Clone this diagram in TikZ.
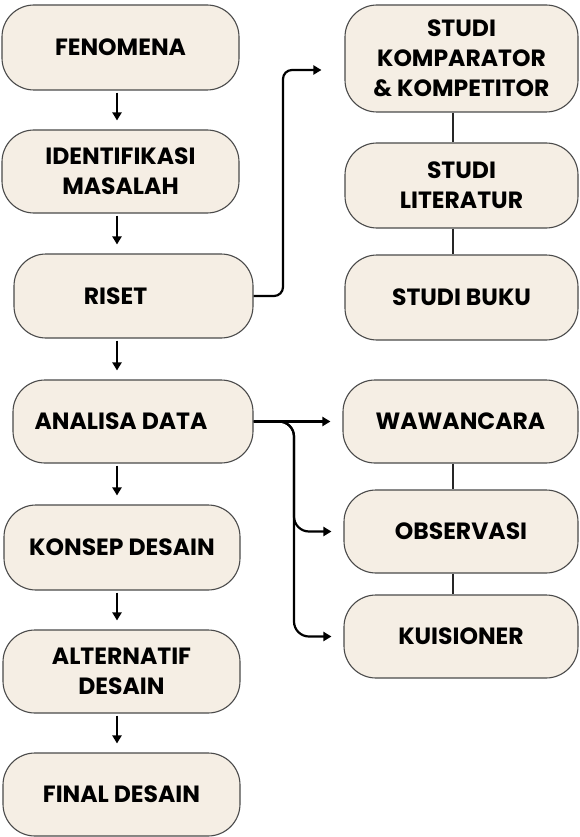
\documentclass[tikz,border=0pt]{standalone}
\usepackage{fontspec}
\setmainfont{Poppins}
\usetikzlibrary{positioning,arrows.meta}
\definecolor{boxfill}{HTML}{F5EEE4}
\definecolor{boxline}{HTML}{4A4A4A}

\begin{document}
\begin{tikzpicture}[x=1pt, y=-1pt,
    proc/.style={rectangle, draw=boxline, line width=1.1pt, rounded corners=32pt, fill=boxfill,
        minimum width=237pt, minimum height=84pt, align=center, text=black,
        font=\fontsize{23.5}{30}\selectfont\bfseries},
    flow/.style={-{Triangle[length=8pt,width=9pt]}, line width=2.2pt, black},
    link/.style={line width=2pt, black!85}
]
\useasboundingbox (0,0) rectangle (580,837);
\fill[white] (0,0) rectangle (580,837);

% left column
\node (L1) [proc, minimum height=85pt] at (120.5,47.5) {FENOMENA};
\node (L2) [proc, minimum height=83pt] at (120.5,171.5) {IDENTIFIKASI\\MASALAH};
\node (L3) [proc, minimum width=239pt] at (133.5,296) {\hspace*{-36pt}RISET};
\node (L4) [proc, minimum width=240pt, minimum height=83pt] at (133,421.5) {\hspace*{-24pt}ANALISA DATA};
\node (L5) [proc, minimum width=236pt, minimum height=85pt] at (122,547.5) {KONSEP DESAIN};
\node (L6) [proc, minimum height=83pt] at (121.5,671.5) {ALTERNATIF\\DESAIN};
\node (L7) [proc, minimum height=83pt] at (121.5,794.5) {FINAL DESAIN};

% right column
\node (R1) [proc, minimum width=233pt, minimum height=107pt] at (461.5,58.5) {STUDI\\KOMPARATOR\\\& KOMPETITOR};
\node (R2) [proc, minimum width=233pt, minimum height=85pt] at (461.5,185.5) {STUDI\\LITERATUR};
\node (R3) [proc, minimum width=233pt, minimum height=85pt] at (461.5,297.5) {STUDI BUKU};
\node (R4) [proc, minimum width=235pt, minimum height=83pt] at (460.5,421.5) {WAWANCARA};
\node (R5) [proc, minimum width=234pt, minimum height=83pt] at (461,531.5) {OBSERVASI};
\node (R6) [proc, minimum width=234pt, minimum height=83pt] at (461,636.5) {KUISIONER};

\coordinate (lspine) at (117,0);
\coordinate (rspine) at (452.5,0);
\coordinate (rbend) at (283,70);
\coordinate (abend) at (294,0);

% main flow
\foreach \a/\b in {L1/L2, L2/L3, L3/L4, L4/L5, L5/L6, L6/L7}
    \draw[flow, shorten <=2pt, shorten >=9pt] (\a.south -| lspine) -- (\b.north -| lspine);

% links between studies
\foreach \a/\b in {R1/R2, R2/R3, R4/R5, R5/R6}
    \draw[link] (\a.south -| rspine) -- (\b.north -| rspine);

% riset to studies
\draw[flow, rounded corners=9pt, shorten >=23pt] (L3.east) -| (rbend) -- (R1.west |- rbend);

% analisa to data sources
\draw[flow, shorten >=12pt] (L4.east) -- (R4.west);
\draw[flow, rounded corners=15pt, shorten >=12pt] (L4.east) -| (abend |- R5.west) -- (R5.west);
\draw[flow, rounded corners=15pt, shorten >=12pt] (L4.east) -| (abend |- R6.west) -- (R6.west);

\end{tikzpicture}
\end{document}
